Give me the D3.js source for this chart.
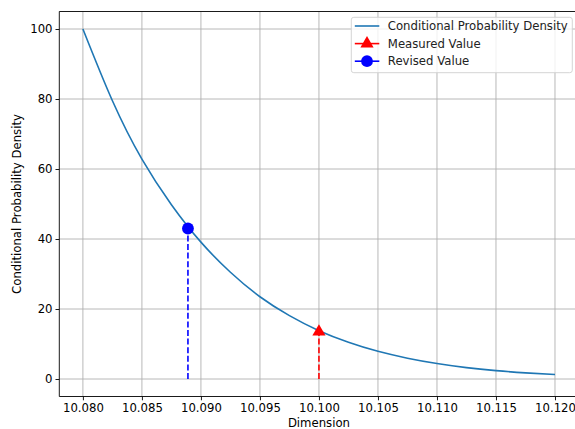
<!DOCTYPE html>
<html>
<head>
<meta charset="utf-8">
<script src="https://cdn.jsdelivr.net/npm/d3@7"></script>
<style>
  body { margin: 0; background: #fff; }
  svg { font-family: "DejaVu Sans", sans-serif; }
  .tick text { font-size: 11.7px; fill: #000; }
  .axis-label { font-size: 11.7px; fill: #000; }
</style>
</head>
<body>
<svg width="575" height="429"></svg>
<script>
// curve
let dims = [10.0800, 10.0825, 10.0850, 10.0875, 10.0900, 10.0925, 10.0950, 10.0975, 10.1000,
            10.1025, 10.1050, 10.1075, 10.1100, 10.1125, 10.1150, 10.1175, 10.1200];
let density = [100, 79.5, 62.8, 49.8, 39.1, 30.5, 23.5, 18.1, 13.8,
               10.5, 7.9, 5.95, 4.42, 3.25, 2.4, 1.76, 1.28];

let measured = {x: 10.100, y: 13.5};
let revised = {x: 10.0889, y: 43.0};

let xTicks = [10.080, 10.085, 10.090, 10.095, 10.100, 10.105, 10.110, 10.115, 10.120];
let yTicks = [0, 20, 40, 60, 80, 100];

let margin = {top: 11.5, left: 59.3},
    width = 578.6 - margin.left,
    height = 396.5 - margin.top;

var svg = d3.select("svg");
var g = svg.append("g")
    .attr("transform", `translate(${margin.left},${margin.top})`);

var x = d3.scaleLinear().domain([10.078, 10.122]).range([0, width]);
var y = d3.scaleLinear().domain([-5, 105]).range([height, 0]);

// grid
g.append("g").selectAll("line")
    .data(xTicks).enter().append("line")
    .attr("x1", d => x(d)).attr("x2", d => x(d))
    .attr("y1", 0).attr("y2", height)
    .attr("stroke", "#b0b0b0").attr("stroke-width", 0.9);
g.append("g").selectAll("line")
    .data(yTicks).enter().append("line")
    .attr("x1", 0).attr("x2", width)
    .attr("y1", d => y(d)).attr("y2", d => y(d))
    .attr("stroke", "#b0b0b0").attr("stroke-width", 0.9);

// axes
var xAxis = g.append("g")
    .attr("transform", `translate(0,${height})`)
    .call(d3.axisBottom(x).tickValues(xTicks).tickFormat(d3.format(".3f")).tickSize(3.8).tickPadding(3));
var yAxis = g.append("g")
    .call(d3.axisLeft(y).tickValues(yTicks).tickSize(3.8).tickPadding(3));
[xAxis, yAxis].forEach(a => {
    a.select(".domain").remove();
    a.selectAll(".tick line").attr("stroke", "#000").attr("stroke-width", 0.9);
    a.selectAll(".tick text").style("font-family", "DejaVu Sans");
});
// spines
g.append("path")
    .attr("d", `M${width},0H0V${height}H${width}`)
    .attr("fill", "none")
    .attr("stroke", "#000").attr("stroke-width", 0.9);

// curve
let curveData = dims.map((d, i) => ({x: d, y: density[i]}));
g.append("path")
    .datum(curveData)
    .attr("fill", "none")
    .attr("stroke", "#1f77b4")
    .attr("stroke-width", 1.6)
    .attr("d", d3.line().x(d => x(d.x)).y(d => y(d.y)).curve(d3.curveNatural));

// dashed verticals
g.append("line")
    .attr("x1", x(measured.x)).attr("x2", x(measured.x))
    .attr("y1", y(0)).attr("y2", y(measured.y))
    .attr("stroke", "red").attr("stroke-width", 1.6).attr("stroke-dasharray", "6,2.6");
g.append("line")
    .attr("x1", x(revised.x)).attr("x2", x(revised.x))
    .attr("y1", y(0)).attr("y2", y(revised.y))
    .attr("stroke", "blue").attr("stroke-width", 1.6).attr("stroke-dasharray", "6,2.6");

// markers
var triangle = d3.symbol().type(d3.symbolTriangle).size(75);
g.append("path")
    .attr("d", triangle())
    .attr("transform", `translate(${x(measured.x)},${y(measured.y)})`)
    .attr("fill", "red");
g.append("circle")
    .attr("cx", x(revised.x)).attr("cy", y(revised.y))
    .attr("r", 5.9).attr("fill", "blue");

// axis labels
svg.append("text")
    .attr("class", "axis-label")
    .attr("x", margin.left + x(10.1))
    .attr("y", 426.5)
    .attr("text-anchor", "middle")
    .text("Dimension");
svg.append("text")
    .attr("class", "axis-label")
    .attr("transform", `translate(21,${margin.top + height / 2}) rotate(-90)`)
    .attr("text-anchor", "middle")
    .text("Conditional Probability Density");

// legend
var legend = svg.append("g").attr("transform", "translate(351.3,17.3)");
legend.append("rect")
    .attr("width", 221).attr("height", 55.4)
    .attr("rx", 2.5)
    .attr("fill", "white").attr("fill-opacity", 0.8)
    .attr("stroke", "#d0d0d0").attr("stroke-width", 0.9);
let legendItems = [
    {label: "Conditional Probability Density", color: "#1f77b4", marker: null},
    {label: "Measured Value", color: "red", marker: "triangle"},
    {label: "Revised Value", color: "blue", marker: "circle"}
];
legendItems.forEach((item, i) => {
    let ly = 8.7 + i * 17.6;
    legend.append("line")
        .attr("x1", 3.5).attr("x2", 28)
        .attr("y1", ly).attr("y2", ly)
        .attr("stroke", item.color).attr("stroke-width", 1.6);
    if (item.marker === "triangle") {
        legend.append("path")
            .attr("d", triangle())
            .attr("transform", `translate(15.7,${ly})`)
            .attr("fill", item.color);
    } else if (item.marker === "circle") {
        legend.append("circle")
            .attr("cx", 15.7).attr("cy", ly).attr("r", 5.9)
            .attr("fill", item.color);
    }
    legend.append("text")
        .attr("class", "axis-label")
        .attr("x", 36.5).attr("y", ly + 4.2)
        .style("fill", "#222")
        .text(item.label);
});
</script>
</body>
</html>
